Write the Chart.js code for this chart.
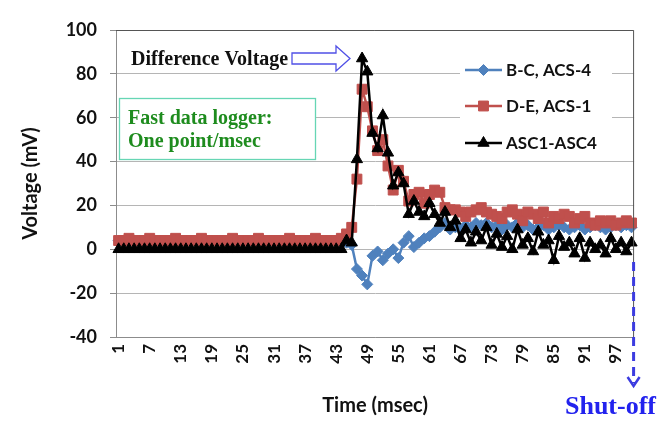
<!DOCTYPE html>
<html lang="en">
<head>
<meta charset="UTF-8">
<title>Difference Voltage</title>
<style>
  body { margin: 0; background: #fff; }
  #graficoTensao { display: block; }
</style>
</head>
<body>
<canvas id="graficoTensao" width="659" height="423"></canvas>

<script src="https://cdn.jsdelivr.net/npm/chart.js"></script>
<script>
// time axis: one point per msec
const timeLabels = Array.from({ length: 100 }, (_, i) => String(i + 1));
const seriesNames = ['B-C, ACS-4', 'D-E, ACS-1', 'ASC1-ASC4'];

// values (mV)
const bcAcs4 = [
  4, 4, 4, 4, 4, 4, 4, 4, 4, 4, 4, 4, 4, 4, 4, 4, 4, 4, 4, 4,
  4, 4, 4, 4, 4, 4, 4, 4, 4, 4, 4, 4, 4, 4, 4, 4, 4, 4, 4, 4,
  4, 4, 4, 4, 3, 2, -9, -12, -16, -3, -1, -5, -2, 0, -4, 3, 6, 1, 3, 5,
  6, 8, 10, 12, 9, 10, 9, 11, 10, 12, 11, 12, 10, 11, 9, 11, 10, 12, 10, 11,
  9, 10, 11, 9, 10, 11, 10, 9, 10, 11, 9, 10, 11, 10, 9, 10, 11, 10, 11, 10
];
const deAcs1 = [
  4, 4, 5, 4, 4, 4, 5, 4, 4, 4, 4, 5, 4, 4, 4, 4, 5, 4, 4, 4,
  4, 4, 5, 4, 4, 4, 4, 5, 4, 4, 4, 4, 4, 5, 4, 4, 4, 4, 5, 4,
  4, 4, 4, 5, 7, 10, 32, 73, 65, 54, 45, 50, 38, 27, 36, 31, 22, 25, 26, 21,
  25, 27, 26, 19, 18, 18, 17, 15, 17, 18, 19, 17, 16, 15, 14, 17, 18, 16, 13, 17,
  16, 14, 17, 12, 15, 14, 16, 15, 12, 14, 15, 12, 11, 13, 12, 13, 11, 12, 13, 12
];
const asc1Asc4 = [
  0, 0, 0, 0, 0, 0, 0, 0, 0, 0, 0, 0, 0, 0, 0, 0, 0, 0, 0, 0,
  0, 0, 0, 0, 0, 0, 0, 0, 0, 0, 0, 0, 0, 0, 0, 0, 0, 0, 0, 0,
  0, 0, 0, 0, 4, 3, 41, 87, 81, 53, 46, 61, 44, 29, 35, 30, 16, 22, 17, 15,
  21, 16, 12, 17, 10, 13, 5, 9, 3, 8, 4, 10, 2, 7, 1, 6, 0, 9, 2, 5,
  -1, 8, 2, 4, -5, 6, 1, 3, -2, 5, -4, 3, 0, 2, -2, 5, 0, 3, -1, 3
];

const corAzul = '#4F81BD';
const corVermelho = '#C0504D';
const corPreto = '#000000';

const fonteEixo = 'Lato, "Open Sans", sans-serif';
const fonteSerif = '"Liberation Serif", "DejaVu Serif", serif';

// legenda desenhada por cima da área do gráfico (como no Excel)
const legendaPlugin = {
  id: 'legendaPlugin',
  afterDatasetsDraw(chart) {
    const ctx = chart.ctx;
    ctx.save();
    ctx.fillStyle = '#fff';
    ctx.fillRect(460, 50, 152, 110);
    const linhas = [70, 106, 143];
    chart.data.datasets.forEach((ds, i) => {
      const y = linhas[i];
      ctx.strokeStyle = ds.borderColor;
      ctx.lineWidth = 2.5;
      ctx.beginPath();
      ctx.moveTo(465, y);
      ctx.lineTo(502, y);
      ctx.stroke();
      ctx.fillStyle = ds.backgroundColor;
      ctx.strokeStyle = ds.borderColor;
      ctx.lineWidth = 1;
      Chart.helpers.drawPoint(ctx, {
        pointStyle: ds.pointStyle,
        radius: ds.pointRadius,
        rotation: 0,
        borderWidth: 1
      }, 483.5, y);
      ctx.fillStyle = '#111';
      ctx.font = 'bold 17px ' + fonteEixo;
      ctx.textAlign = 'left';
      ctx.textBaseline = 'middle';
      ctx.fillText(ds.label, 506, y + 1);
    });
    ctx.restore();
  }
};

// moldura, anotações e seta de desligamento
const anotacoesPlugin = {
  id: 'anotacoesPlugin',
  afterDraw(chart) {
    const ctx = chart.ctx;
    const area = chart.chartArea;
    ctx.save();

    // borda superior e direita da área de plotagem
    ctx.strokeStyle = '#555';
    ctx.lineWidth = 1;
    ctx.beginPath();
    ctx.moveTo(area.left, area.top + 0.5);
    ctx.lineTo(area.right - 0.5, area.top + 0.5);
    ctx.lineTo(area.right - 0.5, area.bottom);
    ctx.stroke();

    // "Difference Voltage" + seta vazada
    ctx.fillStyle = '#111';
    ctx.font = 'bold 20px ' + fonteSerif;
    ctx.textAlign = 'left';
    ctx.textBaseline = 'middle';
    ctx.fillText('Difference Voltage', 131, 60);

    ctx.beginPath();
    ctx.moveTo(292, 53);
    ctx.lineTo(336, 53);
    ctx.lineTo(336, 46);
    ctx.lineTo(350, 58.5);
    ctx.lineTo(336, 71);
    ctx.lineTo(336, 64);
    ctx.lineTo(292, 64);
    ctx.closePath();
    ctx.fillStyle = '#fff';
    ctx.fill();
    ctx.strokeStyle = '#5050E6';
    ctx.lineWidth = 1.3;
    ctx.stroke();

    // caixa verde
    ctx.fillStyle = '#fff';
    ctx.fillRect(119, 98, 197, 62);
    ctx.strokeStyle = '#66D6B4';
    ctx.lineWidth = 1.3;
    ctx.strokeRect(119.5, 98.5, 196, 61);
    ctx.fillStyle = '#1E8C1E';
    ctx.font = 'bold 20px ' + fonteSerif;
    ctx.fillText('Fast data logger:', 128, 119);
    ctx.fillText('One point/msec', 128, 142);

    // seta tracejada "Shut-off"
    const xs = area.right - 0.5;
    ctx.strokeStyle = '#3C3CE0';
    ctx.lineWidth = 3;
    ctx.setLineDash([9, 6]);
    ctx.beginPath();
    ctx.moveTo(xs, 262);
    ctx.lineTo(xs, 383);
    ctx.stroke();
    ctx.setLineDash([]);
    ctx.lineWidth = 2.5;
    ctx.beginPath();
    ctx.moveTo(xs - 6, 377);
    ctx.lineTo(xs, 386);
    ctx.lineTo(xs + 6, 377);
    ctx.stroke();

    ctx.fillStyle = '#2222EE';
    ctx.font = 'bold 26px ' + fonteSerif;
    ctx.textAlign = 'right';
    ctx.fillText('Shut-off', 656, 407);

    ctx.restore();
  }
};

const ctx = document.getElementById('graficoTensao').getContext('2d');
new Chart(ctx, {
  type: 'line',
  data: {
    labels: timeLabels,
    datasets: [
      {
        label: seriesNames[0],
        data: bcAcs4,
        borderColor: corAzul,
        backgroundColor: corAzul,
        borderWidth: 2.5,
        pointStyle: 'rectRot',
        pointRadius: 5.5,
        pointBorderWidth: 1,
        order: 3
      },
      {
        label: seriesNames[1],
        data: deAcs1,
        borderColor: corVermelho,
        backgroundColor: corVermelho,
        borderWidth: 2.5,
        pointStyle: 'rect',
        pointRadius: 7,
        pointBorderWidth: 1,
        order: 2
      },
      {
        label: seriesNames[2],
        data: asc1Asc4,
        borderColor: corPreto,
        backgroundColor: corPreto,
        borderWidth: 2.5,
        pointStyle: 'triangle',
        pointRadius: 6.5,
        pointBorderWidth: 1,
        order: 1
      }
    ]
  },
  options: {
    responsive: false,
    animation: false,
    layout: { padding: { top: 30, right: 20, left: 0, bottom: 0 } },
    plugins: {
      legend: { display: false },
      tooltip: { enabled: false }
    },
    elements: { line: { tension: 0 } },
    scales: {
      x: {
        type: 'category',
        offset: true,
        grid: { display: false, drawTicks: false },
        border: { display: true, color: '#8C8C8C', width: 1 },
        ticks: {
          autoSkip: false,
          minRotation: 90,
          maxRotation: 90,
          padding: 7,
          color: '#111',
          font: { family: fonteEixo, size: 17, weight: 'bold' },
          callback: (v, i) => (i % 6 === 0 ? timeLabels[i] : '')
        },
        title: {
          display: true,
          text: 'Time (msec)',
          color: '#111',
          font: { family: fonteEixo, size: 20, weight: 'bold' },
          padding: { top: 0, bottom: 5 }
        },
        afterFit: (scale) => { scale.height = 86; }
      },
      y: {
        min: -40,
        max: 100,
        grid: { color: '#B5B5B5', lineWidth: 1, tickLength: 6, tickColor: '#8C8C8C' },
        border: { display: true, color: '#8C8C8C', width: 1 },
        ticks: {
          stepSize: 20,
          padding: 13,
          color: '#111',
          font: { family: fonteEixo, size: 18, weight: 'bold' }
        },
        title: {
          display: true,
          text: 'Voltage (mV)',
          color: '#111',
          font: { family: fonteEixo, size: 20, weight: 'bold' },
          padding: { top: 19, bottom: 0 }
        },
        afterFit: (scale) => { scale.width = 116; }
      }
    }
  },
  plugins: [legendaPlugin, anotacoesPlugin]
});
</script>
</body>
</html>
